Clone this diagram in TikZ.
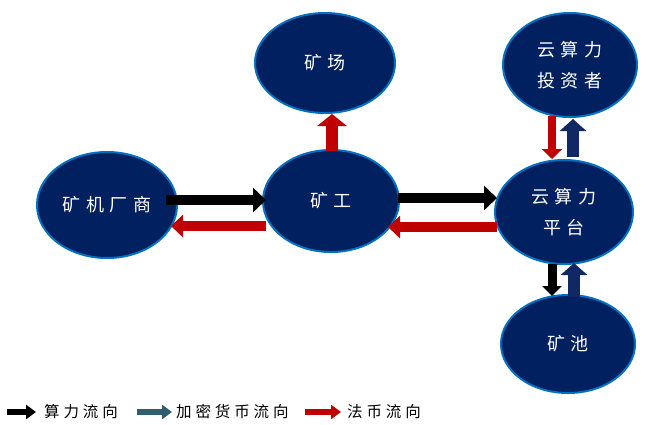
\documentclass[tikz,border=0pt]{standalone}
\usepackage{fontspec}
\usetikzlibrary{arrows.meta,calc,shapes.geometric}
\newfontfamily\cjk[LetterSpace=30]{Noto Sans CJK SC}
\newfontfamily\cjkleg[LetterSpace=25]{Noto Sans CJK SC}
\definecolor{navy}{RGB}{0,32,96}
\definecolor{rimblue}{RGB}{0,112,192}
\definecolor{fiatred}{RGB}{192,0,0}
\definecolor{cryptoteal}{RGB}{49,94,110}
\definecolor{arrownavy}{RGB}{16,40,100}
\begin{document}
\begin{tikzpicture}[x=1pt,y=-1pt,
  bubble/.style={ellipse, fill=navy, draw=rimblue, line width=2pt, inner sep=0pt,
    text=white, font=\cjk\fontsize{18}{31}\selectfont, align=center},
  bigarrow/.style={line width=10pt, -{Triangle[width=24pt,length=13pt]}},
  redarrow/.style={fiatred, line width=10pt, -{Triangle[width=22pt,length=12pt]}},
  vertarrow/.style={line width=12pt, -{Triangle[width=26pt,length=12pt]}},
  thinarrow/.style={line width=9pt, -{Triangle[width=19pt,length=10pt]}},
  legarrow/.style={line width=6pt, -{Triangle[width=14pt,length=10pt]}},
  legtext/.style={anchor=west, inner sep=0pt, font=\cjkleg\fontsize{15.5}{15.5}\selectfont}
]
\useasboundingbox (0,0) rectangle (650,424);

% nodes
\node[bubble, minimum width=140pt, minimum height=100pt] (cf) at (325,63) {矿场};
\node[bubble, minimum width=136pt, minimum height=102pt] (kg) at (331,201) {矿工};
\node[bubble, minimum width=140pt, minimum height=106pt] (mj) at (107,205) {矿机厂商};
\node[bubble, minimum width=138pt, minimum height=104pt] (pt) at (564,212) {云算力\\平台};
\node[bubble, minimum width=134pt, minimum height=104pt] (tz) at (570,65) {云算力\\投资者};
\node[bubble, minimum width=134pt, minimum height=98pt] (kc) at (568,344) {矿池};

% horizontal flows
\draw[bigarrow, black] ($(mj.east)+(-12,-5)$) -- ($(kg.west)+(4,-1)$);
\draw[redarrow] ($(kg.west)+(4,25)$) -- ($(mj.east)+(-7,21)$);
\draw[bigarrow, black] ($(kg.east)+(-2,-3)$) -- ($(pt.west)+(3,-14)$);
\draw[redarrow] ($(pt.west)+(3,15)$) -- ($(kg.east)+(-12,26)$);

% vertical flows
\draw[vertarrow, fiatred, -{Triangle[width=29pt,length=12pt]}] ($(kg.north)+(1,2)$) -- ($(cf.south)+(7,0)$);
\draw[fiatred, line width=8pt, -{Triangle[width=20pt,length=10pt]}] ($(tz.south)+(-18,-2)$) -- ($(pt.north)+(-12,0)$);
\draw[vertarrow, arrownavy] ($(pt.north)+(9,-2)$) -- ($(tz.south)+(3,1)$);
\draw[thinarrow, black] ($(pt.south)+(-12,-1)$) -- ($(kc.north)+(-16,2)$);
\draw[vertarrow, arrownavy] ($(kc.north)+(6,3)$) -- ($(pt.south)+(10,-2)$);

% legend
\coordinate (la1) at (7,412);   \coordinate (lb1) at (36,412);
\coordinate (la2) at (137,412); \coordinate (lb2) at (172,412);
\coordinate (la3) at (305,412); \coordinate (lb3) at (341,412);
\draw[legarrow, black] (la1) -- (lb1);
\node[legtext] (lt1) at (44,412) {算力流向};
\draw[legarrow, cryptoteal] (la2) -- (lb2);
\node[legtext] (lt2) at (176,412) {加密货币流向};
\draw[legarrow, fiatred] (la3) -- (lb3);
\node[legtext] (lt3) at (347,412) {法币流向};
\end{tikzpicture}
\end{document}
